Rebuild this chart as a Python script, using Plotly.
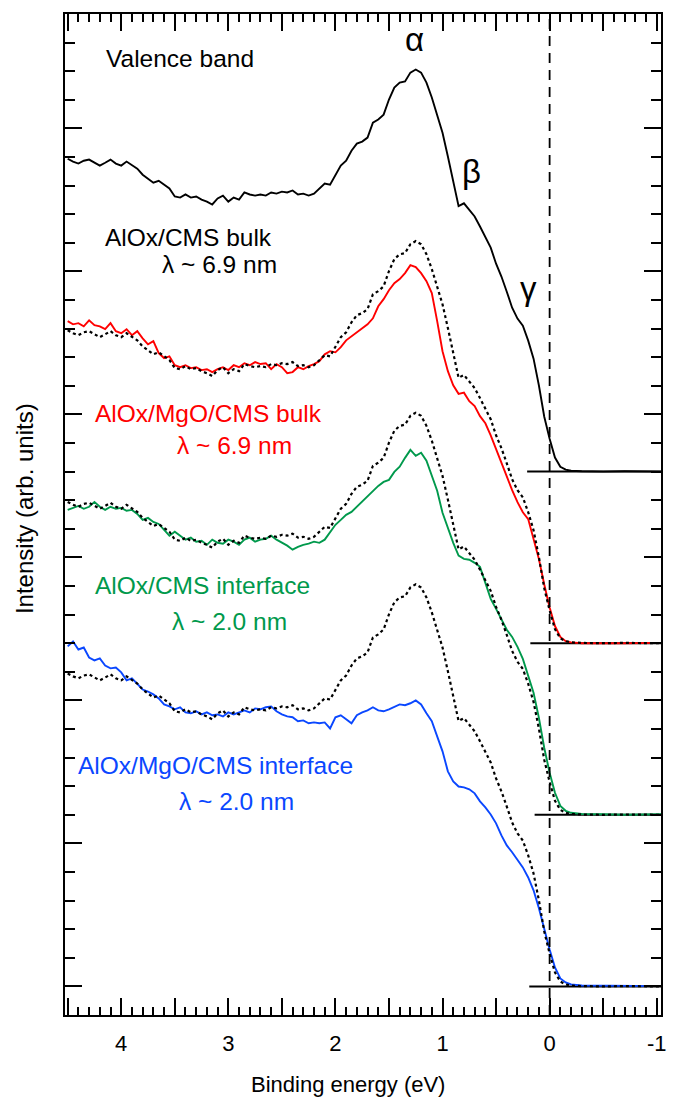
import plotly.graph_objects as go

# Binding energy grid (eV), shared by all spectra
energy = [4.50, 4.45, 4.40, 4.35, 4.30, 4.25, 4.20, 4.15, 4.10, 4.05,
          4.00, 3.95, 3.90, 3.85, 3.80, 3.75, 3.70, 3.65, 3.60, 3.55,
          3.50, 3.45, 3.40, 3.35, 3.30, 3.25, 3.20, 3.15, 3.10, 3.05,
          3.00, 2.95, 2.90, 2.85, 2.80, 2.75, 2.70, 2.65, 2.60, 2.55,
          2.50, 2.45, 2.40, 2.35, 2.30, 2.25, 2.20, 2.15, 2.10, 2.05,
          2.00, 1.95, 1.90, 1.85, 1.80, 1.75, 1.70, 1.65, 1.60, 1.55,
          1.50, 1.45, 1.40, 1.35, 1.30, 1.25, 1.20, 1.15, 1.10, 1.05,
          1.00, 0.95, 0.90, 0.85, 0.80, 0.75, 0.70, 0.65, 0.60, 0.55,
          0.50, 0.45, 0.40, 0.35, 0.30, 0.25, 0.20, 0.15, 0.10, 0.05,
          0.00, -0.05, -0.10, -0.15, -0.20,
          -0.30, -0.50, -0.70, -1.05]

# AlOx/CMS bulk (valence band, also the dotted reference)
bulk_alox_cms = [10.94, 10.84, 10.77, 10.87, 10.91, 10.80, 10.70, 10.80, 10.91, 10.77,
                 10.70, 10.84, 10.70, 10.59, 10.38, 10.24, 10.10, 10.17, 10.03, 9.90,
                 9.62, 9.58, 9.69, 9.58, 9.62, 9.51, 9.44, 9.34, 9.55, 9.65,
                 9.44, 9.58, 9.51, 9.76, 9.69, 9.65, 9.69, 9.65, 9.76, 9.72,
                 9.79, 9.76, 9.83, 9.69, 9.72, 9.65, 9.72, 9.90, 10.07, 10.03,
                 10.38, 10.70, 10.87, 11.22, 11.47, 11.54, 11.68, 12.20, 12.31, 12.48,
                 13.01, 13.43, 13.60, 13.64, 13.95, 14.06, 13.95, 13.60, 13.08, 12.48,
                 11.85, 11.02, 10.10, 9.28, 9.38, 9.15, 8.92, 8.57, 8.22, 7.83,
                 7.27, 6.82, 6.29, 5.73, 5.35, 5.10, 4.58, 3.95, 3.01, 1.92,
                 1.15, 0.49, 0.17, 0.07, 0.03,
                 0.01, 0.00, 0.01, 0.00]

# AlOx/MgO/CMS bulk
bulk_alox_mgo_cms = [11.26, 11.15, 11.19, 11.08, 11.29, 11.12, 11.08, 10.98, 11.19, 10.91,
                     10.84, 10.98, 10.77, 10.91, 10.66, 10.45, 10.56, 10.14, 9.97, 10.03,
                     9.72, 9.65, 9.72, 9.62, 9.65, 9.55, 9.58, 9.48, 9.58, 9.65,
                     9.55, 9.72, 9.65, 9.79, 9.72, 9.83, 9.76, 9.79, 9.58, 9.76,
                     9.65, 9.44, 9.48, 9.65, 9.58, 9.69, 9.76, 9.86, 10.10, 10.21,
                     10.17, 10.35, 10.59, 10.73, 10.87, 11.01, 11.15, 11.36, 11.78, 12.03,
                     12.34, 12.59, 12.73, 12.94, 13.22, 13.15, 12.94, 12.66, 12.24, 11.26,
                     10.21, 9.51, 9.02, 8.72, 8.76, 8.46, 8.29, 7.94, 7.69, 7.27,
                     6.78, 6.29, 5.80, 5.35, 4.93, 4.58, 4.34, 3.67, 2.94, 2.05,
                     1.25, 0.60, 0.22, 0.07, 0.03,
                     0.00, 0.01, 0.00, 0.01]

# AlOx/CMS interface
iface_alox_cms = [10.66, 10.73, 10.80, 10.70, 10.77, 10.94, 10.77, 10.66, 10.77, 10.70,
                  10.73, 10.63, 10.66, 10.52, 10.31, 10.38, 10.24, 10.17, 9.97, 9.76,
                  9.90, 9.76, 9.62, 9.69, 9.55, 9.58, 9.44, 9.62, 9.51, 9.48,
                  9.62, 9.55, 9.44, 9.62, 9.69, 9.55, 9.62, 9.65, 9.76, 9.62,
                  9.51, 9.41, 9.27, 9.37, 9.44, 9.48, 9.55, 9.51, 9.62, 9.90,
                  10.14, 10.31, 10.49, 10.59, 10.77, 10.94, 11.12, 11.33, 11.50, 11.64,
                  11.71, 11.99, 12.17, 12.48, 12.76, 12.55, 12.66, 12.38, 11.89, 11.33,
                  10.56, 10.00, 9.51, 9.06, 8.95, 8.92, 8.81, 8.67, 8.11, 7.55,
                  7.20, 6.85, 6.47, 6.22, 5.87, 5.45, 4.83, 4.27, 3.39, 2.34,
                  1.47, 0.77, 0.31, 0.14, 0.07,
                  0.03, 0.02, 0.00, 0.02]

# AlOx/MgO/CMS interface
iface_alox_mgo_cms = [11.89, 12.06, 11.78, 11.85, 11.50, 11.40, 11.47, 11.22, 11.12, 11.15,
                      10.98, 10.70, 10.77, 10.56, 10.38, 10.31, 10.21, 10.07, 9.86, 9.79,
                      9.69, 9.76, 9.58, 9.55, 9.62, 9.51, 9.58, 9.48, 9.51, 9.44,
                      9.58, 9.51, 9.58, 9.65, 9.58, 9.72, 9.69, 9.76, 9.79, 9.62,
                      9.51, 9.44, 9.41, 9.27, 9.30, 9.20, 9.23, 9.20, 9.23, 9.02,
                      9.41, 9.48, 9.34, 9.20, 9.48, 9.58, 9.65, 9.76, 9.65, 9.62,
                      9.69, 9.79, 9.86, 9.83, 9.90, 10.00, 9.86, 9.55, 9.27, 8.74,
                      8.22, 7.52, 7.17, 6.99, 6.96, 6.89, 6.75, 6.47, 6.26, 6.01,
                      5.70, 5.28, 4.93, 4.69, 4.44, 4.16, 3.81, 3.36, 2.73, 1.96,
                      1.29, 0.66, 0.28, 0.14, 0.07,
                      0.03, 0.02, 0.03, 0.01]

for arr in (bulk_alox_cms, bulk_alox_mgo_cms, iface_alox_cms, iface_alox_mgo_cms):
    assert len(arr) == len(energy), (len(arr), len(energy))

# vertical offsets of the stacked spectra and start of their zero lines
offsets = [19, 13, 7, 1]
baseline_start = [0.21, 0.18, 0.14, 0.19]
baseline_end = -1.1

series_names = ["AlOx/CMS bulk", "AlOx/MgO/CMS bulk",
                "AlOx/CMS interface", "AlOx/MgO/CMS interface"]
series_colors = ["#000000", "#FF0000", "#00994C", "#0A47FF"]
series_data = [bulk_alox_cms, bulk_alox_mgo_cms, iface_alox_cms, iface_alox_mgo_cms]
depth_labels = ["λ ~ 6.9 nm", "λ ~ 6.9 nm", "λ ~ 2.0 nm", "λ ~ 2.0 nm"]

x_tick_values = [4.5, 4.0, 3.5, 3.0, 2.5, 2.0, 1.5, 1.0, 0.5, 0.0, -0.5, -1.0]
x_tick_labels = ["", "4", "", "3", "", "2", "", "1", "", "0", "", "-1"]

FONT = "Liberation Sans, Arial, sans-serif"

fig = go.Figure()

# zero lines
for off, x0 in zip(offsets, baseline_start):
    fig.add_trace(go.Scatter(x=[x0, baseline_end], y=[off, off], mode="lines",
                             line=dict(color="black", width=2), hoverinfo="skip",
                             showlegend=False))

# spectra
for i, (name, col, data, off) in enumerate(zip(series_names, series_colors,
                                               series_data, offsets)):
    fig.add_trace(go.Scatter(x=energy, y=[v + off for v in data], mode="lines",
                             name=name, line=dict(color=col, width=1.9),
                             showlegend=False))
    if i > 0:
        fig.add_trace(go.Scatter(x=energy, y=[v + off for v in bulk_alox_cms],
                                 mode="lines", name="AlOx/CMS bulk (ref)",
                                 line=dict(color="black", width=2.2, dash="3px,3px"),
                                 showlegend=False))

# Fermi level
fig.add_vline(x=0, line=dict(color="black", width=1.8, dash="10px,7px"))

ann = []
txt_font = dict(family=FONT, size=24.5)
label_pos = [(4.17, 27.18), (4.26, 21.03), (4.26, 15.02), (4.42, 8.72)]
depth_pos = [(3.64, 26.24), (3.50, 19.91), (3.54, 13.76), (3.48, 7.46)]
for name, col, (lx, ly), dl, (dx, dy) in zip(series_names, series_colors,
                                              label_pos, depth_labels, depth_pos):
    ann.append(dict(x=lx, y=ly, text=name, showarrow=False, xanchor="left",
                    yanchor="middle", font=dict(txt_font, color=col)))
    ann.append(dict(x=dx, y=dy, text=dl, showarrow=False, xanchor="left",
                    yanchor="middle", font=dict(txt_font, color=col)))
ann.append(dict(x=4.16, y=33.44, text="Valence band", showarrow=False,
                xanchor="left", yanchor="middle", font=dict(txt_font, color="black")))
for t, gx, gy in [("α", 1.265, 34.1), ("β", 0.725, 29.5), ("γ", 0.195, 25.4)]:
    ann.append(dict(x=gx, y=gy, text=t, showarrow=False, xanchor="center",
                    yanchor="middle", font=dict(family=FONT, size=33, color="black")))
# axis titles
ann.append(dict(xref="paper", yref="paper", x=0.475, y=-0.069,
                text="Binding energy (eV)", showarrow=False, xanchor="center",
                yanchor="middle", font=dict(family=FONT, size=22, color="black")))
ann.append(dict(xref="paper", yref="paper", x=-0.067, y=0.5055,
                text="Intensity (arb. units)", showarrow=False, xanchor="center",
                yanchor="middle", textangle=-90,
                font=dict(family=FONT, size=24, color="black")))

fig.update_layout(
    width=679, height=1102,
    margin=dict(l=65, r=18, t=12, b=87),
    paper_bgcolor="white", plot_bgcolor="white",
    annotations=ann,
    xaxis=dict(range=[4.525, -1.04], tickmode="array", tickvals=x_tick_values,
               ticktext=x_tick_labels, ticks="inside", ticklen=17, tickwidth=1.8,
               tickcolor="black", showline=True, linewidth=2, linecolor="black",
               mirror="allticks", showgrid=False, zeroline=False,
               tickfont=dict(family=FONT, size=22, color="black"),
               ticklabelstandoff=8,
               minor=dict(ticks="inside", ticklen=8, tickwidth=1.8, tickcolor="black",
                          dtick=0.1, tick0=0, showgrid=False)),
    yaxis=dict(range=[0, 35], tickmode="linear", tick0=1, dtick=5,
               showticklabels=False, ticks="inside", ticklen=17, tickwidth=1.8,
               tickcolor="black", showline=True, linewidth=2, linecolor="black",
               mirror="allticks", showgrid=False, zeroline=False,
               minor=dict(ticks="inside", ticklen=10, tickwidth=1.8, tickcolor="black",
                          dtick=1, tick0=0, showgrid=False)),
)

fig.write_html("out.html")
